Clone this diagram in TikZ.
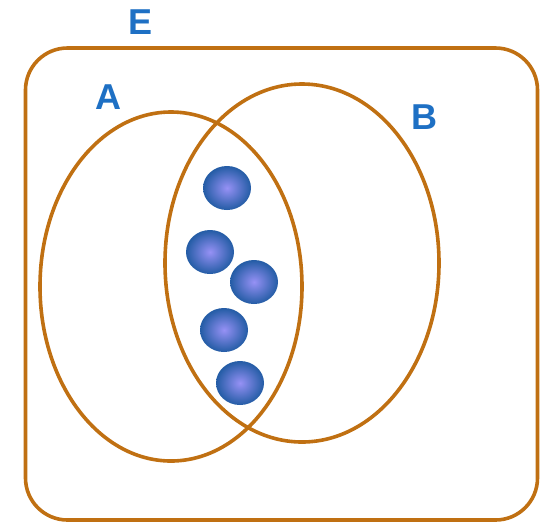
\documentclass[tikz,border=0pt]{standalone}
\usepackage{fontspec}
\setmainfont{Liberation Sans}
\usetikzlibrary{shapes.geometric}
\definecolor{setline}{RGB}{192,112,18}
\definecolor{lbl}{RGB}{30,112,196}
\definecolor{ballin}{RGB}{150,145,245}
\definecolor{ballout}{RGB}{35,92,165}
\tikzset{
  setell/.style={draw=setline, line width=3.6pt, ellipse, inner sep=0pt},
  ballnode/.style={ellipse, inner sep=0pt, minimum width=48pt, minimum height=44pt,
    shading=radial, inner color=ballin, outer color=ballout},
  lab/.style={text=lbl, font=\fontsize{36}{36}\selectfont\bfseries, inner sep=0pt}
}
\begin{document}
\begin{tikzpicture}[x=1pt,y=-1pt]
\useasboundingbox (0,0) rectangle (548,523);
\node[draw=setline, line width=3.6pt, rounded corners=42pt, minimum width=512pt, minimum height=472pt, inner sep=0pt] (E) at (281.5,284) {};
\node[setell, minimum width=262pt, minimum height=349pt] (A) at (171,286.5) {};
\node[setell, minimum width=274pt, minimum height=358pt] (B) at (302,263) {};
\node[ballnode] (b1) at (227,188) {};
\node[ballnode] (b2) at (210,252) {};
\node[ballnode] (b3) at (254,282) {};
\node[ballnode] (b4) at (224,330) {};
\node[ballnode] (b5) at (240,383) {};
\node[lab] (lE) at (141,22) {E};
\node[lab] (lA) at (108,97) {A};
\node[lab] (lB) at (424,117) {B};
\end{tikzpicture}
\end{document}
